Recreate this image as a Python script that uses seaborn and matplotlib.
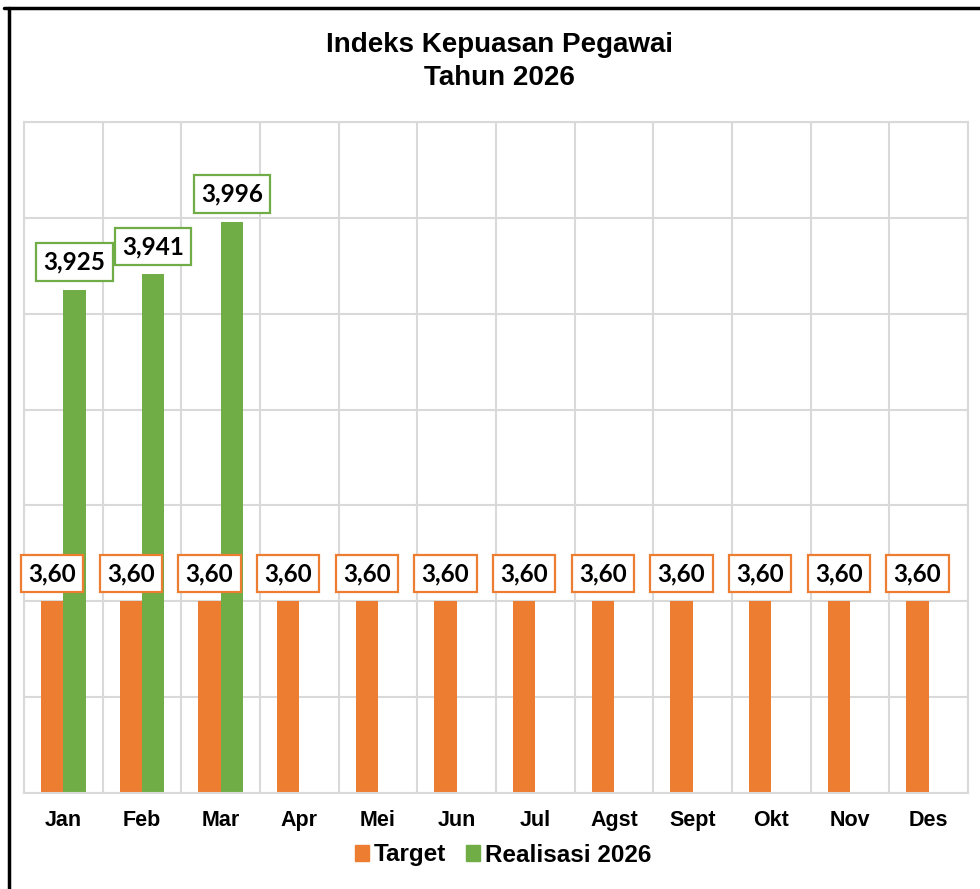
import numpy as np
import pandas as pd
import seaborn as sns
import matplotlib.pyplot as plt
from matplotlib.lines import Line2D
from matplotlib.ticker import MultipleLocator

sns.set_theme(style="white")
plt.rcParams['font.family'] = ['Liberation Sans', 'DejaVu Sans']
plt.rcParams['text.color'] = 'black'
plt.rcParams['xtick.color'] = 'black'

months = ["Jan", "Feb", "Mar", "Apr", "Mei", "Jun", "Jul", "Agst", "Sept", "Okt", "Nov", "Des"]
target = [3.60, 3.60, 3.60, 3.60, 3.60, 3.60, 3.60, 3.60, 3.60, 3.60, 3.60, 3.60]
realisasi = [3.925, 3.941, 3.996, np.nan, np.nan, np.nan, np.nan, np.nan, np.nan, np.nan, np.nan, np.nan]
series = ["Target", "Realisasi 2026"]
colors = ["#ED7D31", "#70AD47"]
decimals = [2, 3]

data = pd.concat([
    pd.DataFrame({"bulan": months, "nilai": target, "seri": series[0]}),
    pd.DataFrame({"bulan": months, "nilai": realisasi, "seri": series[1]}),
], ignore_index=True)

fig = plt.figure(figsize=(9.8, 8.89), dpi=100)
ax = fig.add_axes([24 / 980, 96 / 889, 944 / 980, 671 / 889])

sns.barplot(data=data, x="bulan", y="nilai", hue="seri", order=months, hue_order=series,
            palette=colors, saturation=1, width=0.57, errorbar=None, linewidth=0,
            legend=False, ax=ax)

ax.set_ylim(3.4, 4.1)
ax.set_xlim(-0.5, 11.5)
ax.yaxis.set_major_locator(MultipleLocator(0.1))
ax.set_yticklabels([])
ax.xaxis.set_minor_locator(MultipleLocator(1, offset=0.5))
ax.grid(True, axis="y", which="major", color="#d9d9d9", linewidth=1.5)
ax.grid(True, axis="x", which="minor", color="#d9d9d9", linewidth=1.5)
ax.grid(False, axis="x", which="major")
ax.set_axisbelow(True)
ax.tick_params(axis="both", which="both", length=0)
ax.tick_params(axis="x", pad=12, labelsize=15.5, labelcolor="black")
for lab in ax.get_xticklabels():
    lab.set_fontweight("bold")
ax.set_xlabel("")
ax.set_ylabel("")
for sp in ax.spines.values():
    sp.set_color("#d9d9d9")
    sp.set_linewidth(1.5)

# value labels in boxes
for cont, col, dec in zip(ax.containers, colors, decimals):
    for bar in cont:
        h = bar.get_height()
        if np.isnan(h) or h == 0:
            continue
        txt = f"{h:.{dec}f}".replace(".", ",")
        ax.annotate(txt, xy=(bar.get_x() + bar.get_width() / 2, h),
                    xytext=(0, 20), textcoords="offset points",
                    ha="center", va="center", fontsize=17.5, fontweight="bold",
                    family=["Lato", "DejaVu Sans"], color="black",
                    bbox=dict(boxstyle="square,pad=0.3", facecolor="white",
                              edgecolor=col, linewidth=1.6),
                    annotation_clip=False)

fig.text(499 / 980, 1 - 45 / 889, "Indeks Kepuasan Pegawai", ha="center", va="center",
         fontsize=20, fontweight="bold", color="black")
fig.text(499 / 980, 1 - 78 / 889, "Tahun 2026", ha="center", va="center",
         fontsize=20, fontweight="bold", color="black")

handles = [plt.Rectangle((0, 0), 1, 1, color=c) for c in colors]
fig.legend(handles, series, loc="center", bbox_to_anchor=(503 / 980, 1 - 855 / 889),
           ncol=2, frameon=False, handlelength=0.6, handleheight=0.6,
           handletextpad=0.2, columnspacing=0.8, labelcolor="black",
           prop={"weight": "bold", "size": 17.5})

# outer frame (top and left)
fig.add_artist(Line2D([4 / 980, 1], [1 - 7.5 / 889, 1 - 7.5 / 889], color="black", linewidth=2.5))
fig.add_artist(Line2D([8.5 / 980, 8.5 / 980], [0, 1 - 7.5 / 889], color="black", linewidth=2.5))

fig.savefig("out.png", dpi=100)
